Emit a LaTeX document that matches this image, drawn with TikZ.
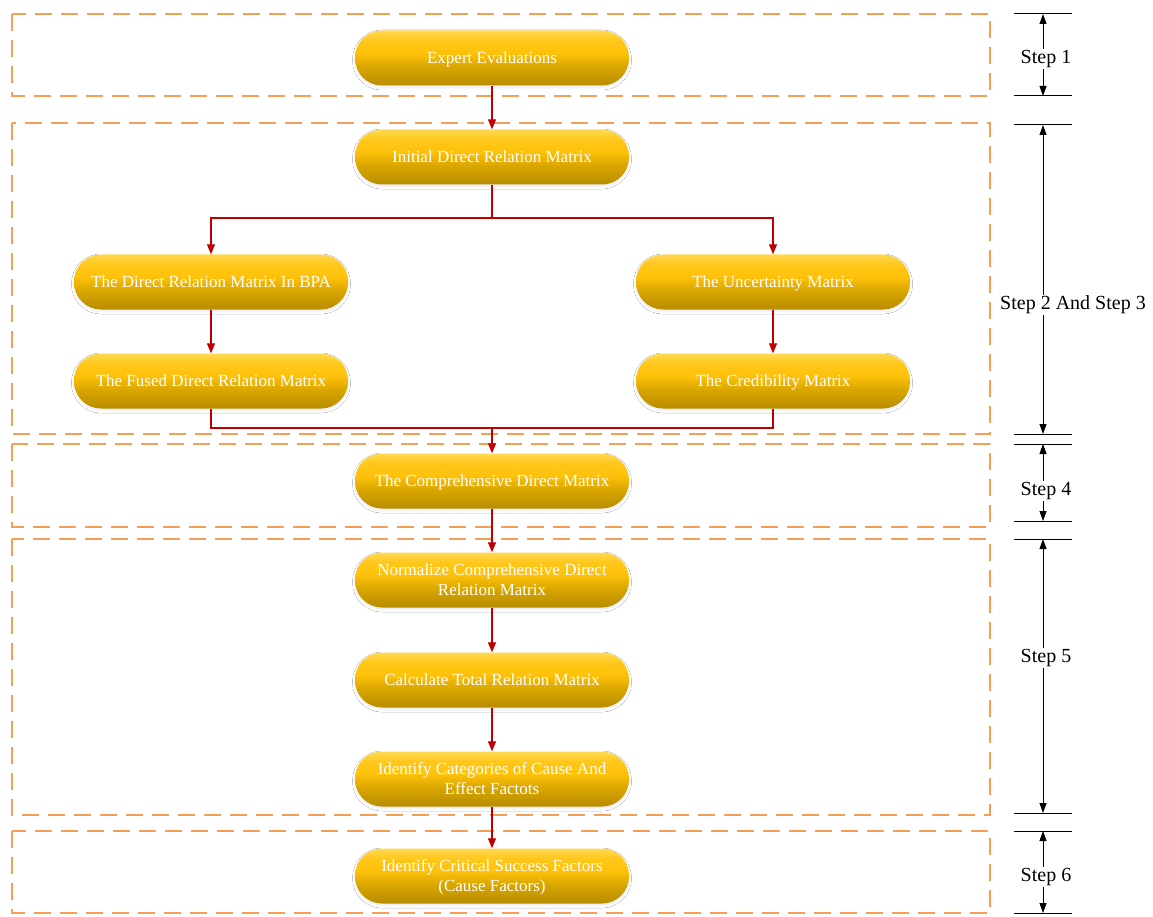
\documentclass[tikz,border=0pt]{standalone}
\usepackage{fontspec}
\setmainfont{Liberation Serif}
\usetikzlibrary{arrows.meta,shadows.blur}
\definecolor{stagedash}{RGB}{244,158,86}
\definecolor{flowred}{RGB}{192,0,0}
% vertical gold fill for the process pills (bottom to top)
\pgfdeclareverticalshading{pillgold}{100bp}{
  rgb(0bp)=(0.72,0.55,0.0);
  rgb(25bp)=(0.72,0.55,0.0);
  rgb(42bp)=(0.85,0.65,0.0);
  rgb(55bp)=(1.0,0.76,0.04);
  rgb(66bp)=(1.0,0.78,0.10);
  rgb(75bp)=(1.0,0.85,0.33);
  rgb(100bp)=(1.0,0.85,0.33)}
\tikzset{
  pill/.style={rectangle, rounded corners=27pt, minimum width=274pt, minimum height=55pt,
    inner sep=0pt, align=center, text=white, font=\fontsize{17}{20}\selectfont,
    text depth=0pt, shading=pillgold,
    blur shadow={shadow xshift=0pt, shadow yshift=-2pt, shadow blur radius=2.5pt, shadow opacity=8}},
  stagebox/.style={draw=stagedash, line width=1.8pt, dash pattern=on 17pt off 9pt},
  flowline/.style={draw=flowred, line width=1.1pt},
  flowarrow/.style={flowline, -{Triangle[length=10pt,width=8pt]}},
  rule/.style={draw=black, line width=1pt},
  span/.style={draw=black, line width=0.9pt, {Triangle[length=10pt,width=7pt]}-{Triangle[length=10pt,width=7pt]}},
  steplabel/.style={font=\fontsize{20}{24}\selectfont, fill=white, inner sep=1pt}
}
\begin{document}
\begin{tikzpicture}[x=1pt,y=-1pt]
\useasboundingbox[fill=white] (0,0) rectangle (1153,917);

% stage frames
\draw[stagebox] (12,14) rectangle (990,96);
\draw[stagebox] (12,123) rectangle (990,434);
\draw[stagebox] (12,444) rectangle (990,527);
\draw[stagebox] (12,539) rectangle (990,815);
\draw[stagebox] (12,831) rectangle (990,913);

% process steps
\node[pill] (expert) at (492,58) {Expert Evaluations};
\node[pill] (init) at (492,157) {Initial Direct Relation Matrix};
\node[pill] (bpa) at (211,282) {The Direct Relation Matrix In BPA};
\node[pill] (unc) at (773,282) {The Uncertainty Matrix};
\node[pill] (fused) at (211,381) {The Fused Direct Relation Matrix};
\node[pill] (cred) at (773,381) {The Credibility Matrix};
\node[pill] (comp) at (492,481) {The Comprehensive Direct Matrix};
\node[pill] (norm) at (492,580) {Normalize Comprehensive Direct\\Relation Matrix};
\node[pill] (total) at (492,680) {Calculate Total Relation Matrix};
\node[pill] (cat) at (492,779) {Identify Categories of Cause And\\Effect Factots};
\node[pill] (csf) at (492,876) {Identify Critical Success Factors\\(Cause Factors)};

% flow connectors
\coordinate (split) at (492,218);
\coordinate (join) at (492,428);
\draw[flowarrow] (expert) -- (init);
\draw[flowline] (init) -- (split);
\draw[flowarrow] (split) -| (bpa.north);
\draw[flowarrow] (split) -| (unc.north);
\draw[flowarrow] (bpa) -- (fused);
\draw[flowarrow] (unc) -- (cred);
\draw[flowline] (fused.south) |- (join) -| (cred.south);
\draw[flowarrow] (join) -- (comp);
\draw[flowarrow] (comp) -- (norm);
\draw[flowarrow] (norm) -- (total);
\draw[flowarrow] (total) -- (cat);
\draw[flowarrow] (cat) -- (csf);

% step extents on the right
\foreach \y in {14,96,125,434,444,521,539,813,831,913}
  \draw[rule] (1014,\y) -- (1072,\y);
\coordinate (s1a) at (1043,14);  \coordinate (s1b) at (1043,96);
\coordinate (s2a) at (1043,125); \coordinate (s2b) at (1043,434);
\coordinate (s4a) at (1043,444); \coordinate (s4b) at (1043,521);
\coordinate (s5a) at (1043,539); \coordinate (s5b) at (1043,813);
\coordinate (s6a) at (1043,831); \coordinate (s6b) at (1043,913);
\draw[span] (s1a) -- (s1b);
\draw[span] (s2a) -- (s2b);
\draw[span] (s4a) -- (s4b);
\draw[span] (s5a) -- (s5b);
\draw[span] (s6a) -- (s6b);
\node[steplabel] (l1) at (1046,59) {Step 1};
\node[steplabel] (l2) at (1073,305) {Step 2 And Step 3};
\node[steplabel] (l4) at (1046,491) {Step 4};
\node[steplabel] (l5) at (1046,658) {Step 5};
\node[steplabel] (l6) at (1046,877) {Step 6};
\end{tikzpicture}
\end{document}
